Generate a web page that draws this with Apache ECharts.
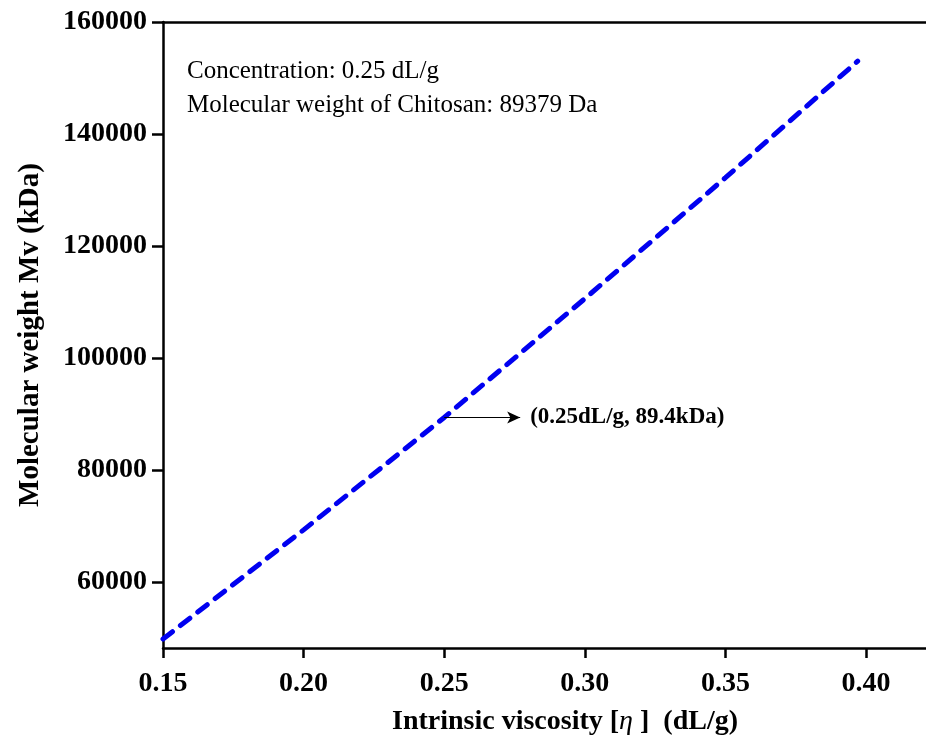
<!DOCTYPE html>
<html>
<head>
<meta charset="utf-8">
<script src="https://cdn.jsdelivr.net/npm/echarts@6/dist/echarts.min.js"></script>
<style>
  html, body { margin: 0; padding: 0; background: #fff; }
  #chart { width: 926px; height: 742px; }
</style>
</head>
<body>
<div id="chart"></div>
<script>
// values
const viscosity = [0.15, 0.20, 0.25, 0.30, 0.35, 0.397];
const molWeight = [49800, 69300, 89379, 110600, 132200, 153000];
const yTicks = [60000, 80000, 100000, 120000, 140000, 160000];
const xTicks = [0.15, 0.20, 0.25, 0.30, 0.35, 0.40];
const pointX = 0.25, pointY = 89379, arrowEndX = 0.277;
const noteLines = ['Concentration: 0.25 dL/g', 'Molecular weight of Chitosan: 89379 Da'];

const FONT = '"Liberation Serif", "Times New Roman", serif';

let chart = echarts.init(document.getElementById('chart'));

let option = {
    animation: false,
    backgroundColor: '#fff',
    grid: { left: 163, right: 0, top: 22, bottom: 94 },
    xAxis: [{
        type: 'value',
        min: 0.15,
        max: 0.4213,
        axisLine: { lineStyle: { color: '#000', width: 2.5 } },
        axisTick: { customValues: xTicks, length: 10, lineStyle: { color: '#000', width: 2.5 } },
        axisLabel: {
            customValues: xTicks,
            margin: 22,
            color: '#000',
            fontFamily: FONT,
            fontWeight: 'bold',
            fontSize: 28,
            formatter: v => v.toFixed(2)
        },
        splitLine: { show: false }
    }, {
        // top border line only
        type: 'value',
        position: 'top',
        min: 0.15,
        max: 0.4213,
        axisLine: { show: true, lineStyle: { color: '#000', width: 2.5 } },
        axisTick: { show: false },
        axisLabel: { show: false },
        splitLine: { show: false }
    }],
    yAxis: {
        type: 'value',
        min: 48200,
        max: 160000,
        name: 'Molecular weight Mv (kDa)',
        nameLocation: 'middle',
        nameGap: 118,
        nameTextStyle: { color: '#000', fontFamily: FONT, fontWeight: 'bold', fontSize: 29 },
        axisLine: { show: true, lineStyle: { color: '#000', width: 2.5 } },
        axisTick: { show: true, customValues: yTicks, length: 11, lineStyle: { color: '#000', width: 2.5 } },
        axisLabel: {
            customValues: yTicks,
            margin: 16,
            color: '#000',
            fontFamily: FONT,
            fontWeight: 'bold',
            fontSize: 28,
            formatter: v => String(v)
        },
        splitLine: { show: false }
    },
    series: [{
        type: 'line',
        data: viscosity.map((x, i) => [x, molWeight[i]]),
        showSymbol: false,
        lineStyle: { color: '#0000f0', width: 5, type: [12, 10], cap: 'round' },
        markLine: {
            silent: true,
            symbol: ['none', 'arrow'],
            symbolSize: [9, 13],
            lineStyle: { color: '#000', width: 1, type: 'solid' },
            label: {
                show: true,
                position: 'end',
                distance: 10,
                formatter: '(0.25dL/g, 89.4kDa)',
                color: '#000',
                fontFamily: FONT,
                fontWeight: 'bold',
                fontSize: 23
            },
            data: [[{ coord: [pointX, pointY] }, { coord: [arrowEndX, pointY] }]]
        }
    }],
    graphic: [{
        type: 'text',
        left: 187,
        top: 54,
        style: {
            text: noteLines.join('\n'),
            font: '25px ' + FONT,
            fill: '#000',
            lineHeight: 34
        }
    }, {
        type: 'text',
        left: 392,
        top: 708,
        style: {
            text: 'Intrinsic viscosity [{e|η} ]  (dL/g)',
            font: 'bold 28px ' + FONT,
            fill: '#000',
            rich: {
                e: { fontFamily: FONT, fontStyle: 'italic', fontWeight: 'normal', fontSize: 28, fill: '#000' }
            }
        }
    }]
};

chart.setOption(option);
</script>
</body>
</html>
